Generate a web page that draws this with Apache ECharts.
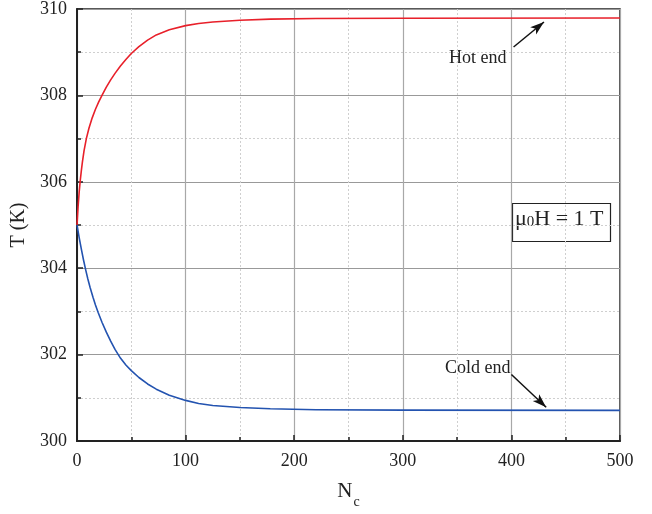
<!DOCTYPE html>
<html>
<head>
<meta charset="utf-8">
<script src="https://cdn.jsdelivr.net/npm/echarts@6/dist/echarts.min.js"></script>
<style>
html,body{margin:0;padding:0;background:#fff;}
#c{width:652px;height:514px;}
</style>
</head>
<body>
<div id="c"></div>
<script>
// Data
const hotN = [0, 1, 2, 3, 4, 5, 6.5, 8.6, 11, 14, 17, 20, 23, 27, 31, 35, 40, 45, 50, 57, 65, 73, 85, 100, 112, 125, 150, 178, 220, 300, 500];
const hotT = [305.00, 305.42, 305.76, 306.03, 306.26, 306.46, 306.72, 307.00, 307.24, 307.48, 307.68, 307.85, 308.00, 308.19, 308.36, 308.51, 308.68, 308.83, 308.97, 309.13, 309.28, 309.40, 309.52, 309.615, 309.665, 309.70, 309.74, 309.765, 309.78, 309.787, 309.79];
const coldN = [0, 2, 4, 6, 8, 10, 12, 14.8, 17, 19.4, 23, 27, 31, 35, 40, 45, 50, 57, 65, 73, 85, 100, 112, 125, 150, 178, 220, 300, 500];
const coldT = [305.00, 304.71, 304.44, 304.19, 303.96, 303.75, 303.56, 303.32, 303.15, 302.98, 302.75, 302.52, 302.31, 302.12, 301.92, 301.76, 301.63, 301.47, 301.32, 301.20, 301.06, 300.94, 300.87, 300.82, 300.775, 300.745, 300.725, 300.715, 300.71];
const xTicks = [0, 100, 200, 300, 400, 500];
const yTicks = [300, 302, 304, 306, 308, 310];
const hotArrow = [[402, 309.12], [430, 309.70]];
const coldArrow = [[400, 301.54], [432, 300.78]];

const font = '"Liberation Serif","Times New Roman",serif';
const chart = echarts.init(document.getElementById('c'));
const zip = (a, b) => a.map((v, i) => [v, b[i]]);

chart.setOption({
  animation: false,
  backgroundColor: '#fff',
  grid: { left: 77, right: 32, top: 6, bottom: 71, show: true, borderColor: '#222', borderWidth: 1.5, backgroundColor: 'transparent' },
  xAxis: {
    type: 'value', min: xTicks[0], max: xTicks[xTicks.length - 1], interval: 100,
    name: '{n|N}{s|c}', nameLocation: 'middle', nameGap: 40,
    nameTextStyle: { rich: { n: { fontFamily: font, fontSize: 21, color: '#222', verticalAlign: 'top' }, s: { fontFamily: font, fontSize: 14, color: '#222', padding: [14, 0, 0, 1], verticalAlign: 'top' } } },
    axisLine: { show: true, onZero: false, lineStyle: { color: '#222', width: 2 } },
    axisTick: { show: true, inside: true, length: 6, lineStyle: { color: '#222', width: 1.5 } },
    minorTick: { show: true, splitNumber: 2, length: 4, lineStyle: { color: '#222', width: 1.5 } },
    axisLabel: { fontFamily: font, fontSize: 18, color: '#222', margin: 11 },
    splitLine: { show: true, lineStyle: { color: '#a8a8a8', width: 1.2 } },
    minorSplitLine: { show: true, lineStyle: { color: '#cfcfcf', width: 1, type: [2, 2] } }
  },
  yAxis: {
    type: 'value', min: yTicks[0], max: yTicks[yTicks.length - 1], interval: 2,
    name: 'T (K)', nameLocation: 'middle', nameGap: 30,
    nameTextStyle: { fontFamily: font, fontSize: 20, color: '#222' },
    axisLine: { show: true, onZero: false, lineStyle: { color: '#222', width: 2 } },
    axisTick: { show: true, inside: true, length: 6, lineStyle: { color: '#222', width: 1.5 } },
    minorTick: { show: true, splitNumber: 2, length: 4, lineStyle: { color: '#222', width: 1.5 } },
    axisLabel: { fontFamily: font, fontSize: 18, color: '#222', margin: 10 },
    splitLine: { show: true, lineStyle: { color: '#999', width: 1.2 } },
    minorSplitLine: { show: true, lineStyle: { color: '#cfcfcf', width: 1, type: [2, 2] } }
  },
  series: [
    {
      type: 'line', data: zip(hotN, hotT), smooth: false, showSymbol: false,
      lineStyle: { color: '#e8202a', width: 1.6, join: 'round' },
      markLine: {
        silent: true, symbol: ['none', 'arrow'], symbolSize: [7, 14],
        label: { show: false },
        lineStyle: { color: '#111', width: 1.5, type: 'solid' },
        data: [[{ coord: hotArrow[0] }, { coord: hotArrow[1] }]]
      }
    },
    {
      type: 'line', data: zip(coldN, coldT), smooth: false, showSymbol: false,
      lineStyle: { color: '#2353b0', width: 1.6, join: 'round' },
      markLine: {
        silent: true, symbol: ['none', 'arrow'], symbolSize: [7, 14],
        label: { show: false },
        lineStyle: { color: '#111', width: 1.5, type: 'solid' },
        data: [[{ coord: coldArrow[0] }, { coord: coldArrow[1] }]]
      }
    }
  ],
  graphic: [
    { type: 'text', left: 449, top: 49, style: { text: 'Hot end', font: '18px ' + font, fill: '#222' } },
    { type: 'text', left: 445, top: 359, style: { text: 'Cold end', font: '18px ' + font, fill: '#222' } },
    { type: 'rect', shape: { x: 512.5, y: 203.5, width: 98, height: 38 }, style: { fill: '#fff', stroke: '#222', lineWidth: 1.2 } },
    { type: 'text', left: 515, top: 208, style: {
        text: '{a|μ}{s|0}{a|H = 1 T}',
        rich: {
          a: { fontFamily: font, fontSize: 22, fill: '#222', verticalAlign: 'bottom', lineHeight: 26 },
          s: { fontFamily: font, fontSize: 15, fill: '#222', verticalAlign: 'bottom', lineHeight: 14 }
        } } }
  ]
});
</script>
</body>
</html>
